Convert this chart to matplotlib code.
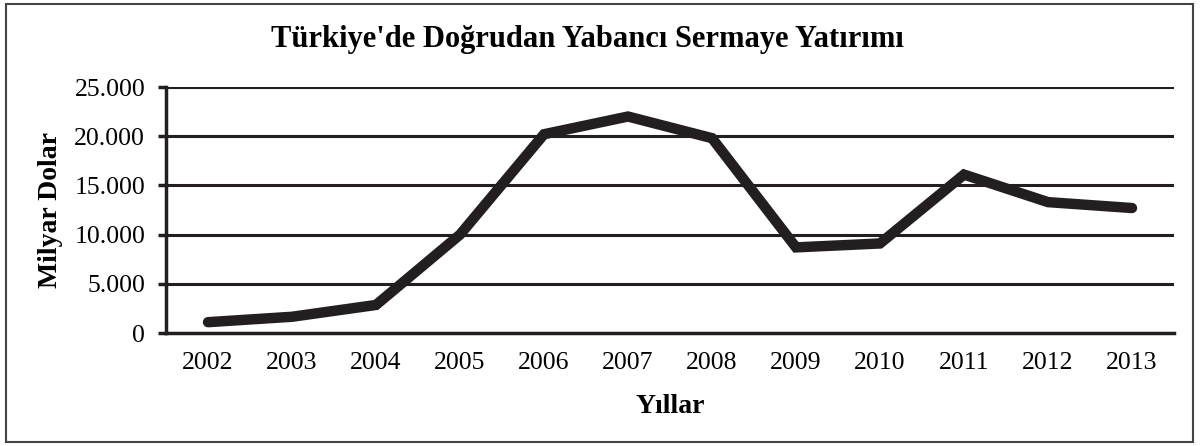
import matplotlib.pyplot as plt
from matplotlib.patches import Rectangle
from matplotlib.ticker import FuncFormatter

years = ['2002', '2003', '2004', '2005', '2006', '2007', '2008',
         '2009', '2010', '2011', '2012', '2013']
# milyon dolar
investment = [1100, 1650, 2850, 10000, 20200, 22000, 19800,
              8700, 9100, 16100, 13300, 12700]
y_ticks = [0, 5000, 10000, 15000, 20000, 25000]

plt.rcParams['font.family'] = ['Liberation Serif', 'DejaVu Serif']
dark = '#231f20'

fig = plt.figure(figsize=(12, 4.46), dpi=100)
ax = fig.add_axes([166 / 1200, 1 - 333 / 446, 1008 / 1200, 246 / 446])

x = list(range(len(years)))
ax.plot(x, investment, color=dark, linewidth=7.5, solid_capstyle='round',
        solid_joinstyle='miter', zorder=3)

ax.set_xlim(-0.5, len(years) - 0.5)
ax.set_ylim(0, 25000)
ax.set_yticks(y_ticks)
ax.yaxis.set_major_formatter(FuncFormatter(
    lambda v, p: '0' if v == 0 else f'{int(v):,}'.replace(',', '.')))
ax.set_xticks(x)
ax.set_xticklabels(years)

ax.grid(axis='y', color=dark, linewidth=2.2)
ax.set_axisbelow(True)
for s in ['top', 'right']:
    ax.spines[s].set_visible(False)
ax.spines['left'].set_color(dark)
ax.spines['left'].set_linewidth(2.5)
ax.spines['bottom'].set_color(dark)
ax.spines['bottom'].set_linewidth(2.5)
ax.tick_params(axis='y', length=6, width=2.5, color=dark, labelsize=18.5, pad=9)
ax.tick_params(axis='x', length=0, labelsize=18.5, pad=14)

ax.set_xlabel('Yıllar', fontsize=20, fontweight='bold', labelpad=14)
ax.set_ylabel('Milyar Dolar', fontsize=20, fontweight='bold', labelpad=8)
fig.text(587 / 1200, 1 - 40 / 446, "Türkiye'de Doğrudan Yabancı Sermaye Yatırımı",
         ha='center', va='center', fontsize=22, fontweight='bold')

fig.patches.append(Rectangle((6 / 1200, 4 / 446), 1187 / 1200, 438 / 446,
                             transform=fig.transFigure, fill=False,
                             edgecolor='#444444', linewidth=1.5))

fig.savefig('out.png', dpi=100)
